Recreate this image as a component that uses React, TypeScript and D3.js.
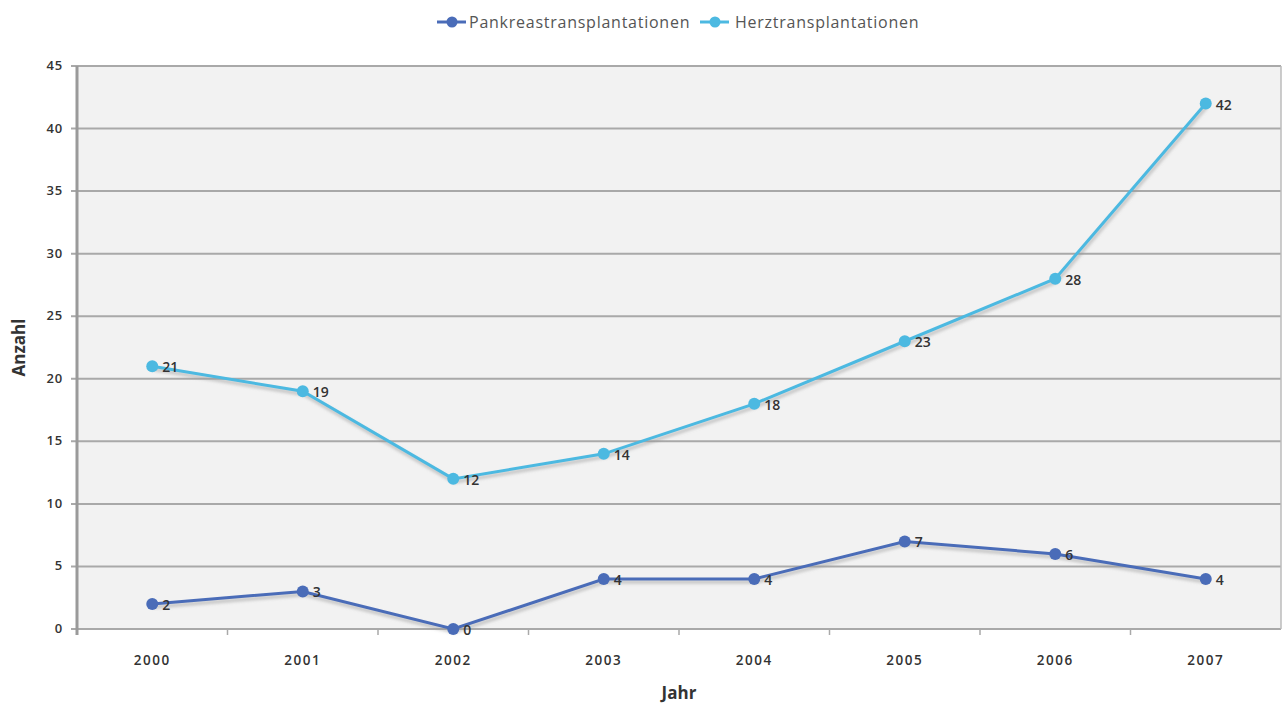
import React from "react";
import * as d3 from "d3";

const years = ["2000", "2001", "2002", "2003", "2004", "2005", "2006", "2007"];
const pankreas = [2, 3, 0, 4, 4, 7, 6, 4];
const herz = [21, 19, 12, 14, 18, 23, 28, 42];
const yTicks = [0, 5, 10, 15, 20, 25, 30, 35, 40, 45];

const seriesNames = ["Pankreastransplantationen", "Herztransplantationen"];
const seriesColors = ["#4a6cb8", "#4cb9e1"];

const W = 1282;
const H = 705;
const margin = { left: 77, right: 1, top: 66, bottom: 76 };
const FONT = "'Open Sans', Lato, sans-serif";

export default function App() {
  const x = d3
    .scaleBand<string>()
    .domain(years)
    .range([margin.left, W - margin.right]);
  const y = d3
    .scaleLinear()
    .domain([0, 45])
    .range([H - margin.bottom, margin.top]);

  const cx = (i: number) => (x(years[i]) as number) + x.bandwidth() / 2;
  const line = d3
    .line<number>()
    .x((_, i) => cx(i))
    .y((d) => y(d));

  const series = [pankreas, herz];
  const x0 = margin.left;
  const x1 = W - margin.right;
  const yBottom = y(0);

  return (
    <svg
      width={W}
      height={H}
      style={{ position: "absolute", left: 0, top: 0, background: "#fff" }}
      fontFamily={FONT}
    >
      <defs>
        <filter id="blur" x="-5%" y="-20%" width="110%" height="140%">
          <feGaussianBlur stdDeviation="1.5" />
        </filter>
      </defs>
      <rect x={x0} y={y(45)} width={x1 - x0} height={yBottom - y(45)} fill="#f2f2f2" />
      {yTicks.map((t) => (
        <g key={t}>
          <line x1={x0 - 6} x2={x1} y1={y(t)} y2={y(t)} stroke="#a9a9a9" strokeWidth={2} />
          <text
            x={x0 - 14}
            y={y(t) + 4}
            textAnchor="end"
            fontSize={13}
            fill="#333"
            fontWeight={600}
            letterSpacing={0.8}
          >
            {t}
          </text>
        </g>
      ))}
      <line x1={x0} x2={x0} y1={y(45)} y2={yBottom + 6} stroke="#9a9a9a" strokeWidth={3} />
      <line x1={x1} x2={x1} y1={y(45)} y2={yBottom} stroke="#bbb" strokeWidth={1.5} />
      {years.map((yr, i) => (
        <g key={yr}>
          {i > 0 && (
            <line
              x1={x(yr) as number}
              x2={x(yr) as number}
              y1={yBottom}
              y2={yBottom + 6}
              stroke="#a9a9a9"
              strokeWidth={1.5}
            />
          )}
          <text
            x={cx(i)}
            y={yBottom + 36}
            textAnchor="middle"
            fontSize={13.5}
            fill="#333"
            fontWeight={600}
            letterSpacing={1.5}
          >
            {yr}
          </text>
        </g>
      ))}
      {series.map((s, si) => (
        <g key={si}>
          <path
            d={line(s) as string}
            transform="translate(1,3)"
            fill="none"
            stroke="#999"
            strokeOpacity={0.5}
            strokeWidth={3.5}
            filter="url(#blur)"
          />
          <path d={line(s) as string} fill="none" stroke={seriesColors[si]} strokeWidth={3} />
          {s.map((v, i) => (
            <g key={i}>
              <circle cx={cx(i)} cy={y(v)} r={6} fill={seriesColors[si]} />
              <text
                x={cx(i) + 10}
                y={y(v) + 6}
                fontSize={14}
                fill="#333"
                fontWeight={600}
              >
                {v}
              </text>
            </g>
          ))}
        </g>
      ))}
      {[
        { lx: 437, tx: 469 },
        { lx: 700, tx: 735 },
      ].map((p, i) => (
        <g key={i}>
          <line
            x1={p.lx}
            x2={p.lx + 29}
            y1={22}
            y2={22}
            stroke={seriesColors[i]}
            strokeWidth={3}
          />
          <circle cx={p.lx + 15} cy={22} r={5.5} fill={seriesColors[i]} />
          <text x={p.tx} y={28} fontSize={16} fill="#555" fontWeight={400} letterSpacing={0.75}>
            {seriesNames[i]}
          </text>
        </g>
      ))}
      <text
        transform={`translate(25,${(y(45) + yBottom) / 2}) rotate(-90)`}
        textAnchor="middle"
        fontSize={17}
        fontWeight={700}
        fill="#333"
      >
        Anzahl
      </text>
      <text
        x={(x0 + x1) / 2}
        y={699}
        textAnchor="middle"
        fontSize={17}
        fontWeight={700}
        fill="#333"
      >
        Jahr
      </text>
    </svg>
  );
}
